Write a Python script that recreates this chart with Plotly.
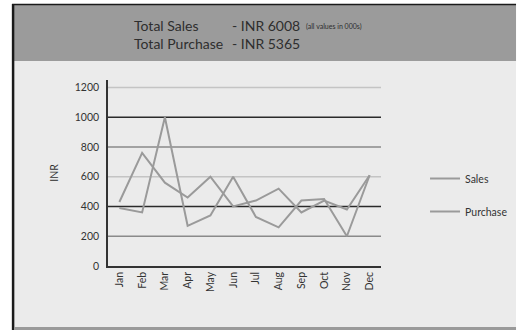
import plotly.graph_objects as go

months = ["Jan", "Feb", "Mar", "Apr", "May", "Jun", "Jul", "Aug", "Sep", "Oct", "Nov", "Dec"]
sales = [430, 760, 560, 460, 600, 400, 440, 520, 360, 440, 380, 610]
purchase = [390, 360, 1000, 270, 340, 600, 330, 260, 440, 450, 200, 610]
y_ticks = [0, 200, 400, 600, 800, 1000, 1200]
grid_colors = ["#8a8a8a", "#2a2a2a", "#c4c4c4", "#8a8a8a", "#2a2a2a", "#c4c4c4"]
total_sales = 6008
total_purchase = 5365

W, H = 525, 330
ML, MR, MT, MB = 108, 138, 80, 64
PW, PH = W - ML - MR, H - MT - MB


def px(x):
    return (x - ML) / PW


def py(y):
    return (H - MB - y) / PH


FONT = "Lato"
line_color = "#9a9a9a"

fig = go.Figure()
fig.add_trace(go.Scatter(x=months, y=sales, mode="lines", name="Sales",
                         line=dict(color=line_color, width=2), legendgroup="s"))
fig.add_trace(go.Scatter(x=months, y=purchase, mode="lines", name="Purchase",
                         line=dict(color=line_color, width=2), legendgroup="p"))

shapes = [
    dict(type="rect", xref="paper", yref="paper", x0=px(12), x1=px(W), y0=py(327), y1=py(61),
         fillcolor="#ebebeb", line=dict(width=0), layer="below"),
    dict(type="rect", xref="paper", yref="paper", x0=px(12), x1=px(W), y0=py(61), y1=py(5),
         fillcolor="#9b9b9b", line=dict(width=0), layer="below"),
    dict(type="line", xref="paper", yref="paper", x0=px(10), x1=px(W), y0=py(4.5), y1=py(4.5),
         line=dict(color="#1a1a1a", width=1.5), layer="below"),
    dict(type="line", xref="paper", yref="paper", x0=px(11), x1=px(11), y0=py(4), y1=py(H),
         line=dict(color="#1a1a1a", width=2.5), layer="below"),
    dict(type="line", xref="paper", yref="paper", x0=px(12), x1=px(W), y0=py(328.5), y1=py(328.5),
         line=dict(color="#9a9a9a", width=3), layer="below"),
]
for v, c in zip(y_ticks[1:], grid_colors):
    shapes.append(dict(type="line", xref="paper", yref="y", x0=0, x1=1, y0=v, y1=v,
                       line=dict(color=c, width=1.5), layer="below"))

annotations = [
    dict(text="Total Sales", x=px(133), y=py(25)),
    dict(text="- INR %d" % total_sales, x=px(233), y=py(25)),
    dict(text="(all values in 000s)", x=px(308), y=py(26), size=7),
    dict(text="Total Purchase", x=px(133), y=py(44)),
    dict(text="- INR %d" % total_purchase, x=px(233), y=py(44)),
]
annotations = [
    dict(text=a["text"], x=a["x"], y=a["y"], xref="paper", yref="paper",
         xanchor="left", yanchor="middle", showarrow=False,
         font=dict(family=FONT, size=a.get("size", 14), color="#2e2e2e"))
    for a in annotations
]

fig.update_layout(
    width=W, height=H,
    margin=dict(l=ML, r=MR, t=MT, b=MB, pad=0),
    paper_bgcolor="white",
    plot_bgcolor="rgba(0,0,0,0)",
    font=dict(family=FONT, size=10, color="#333333"),
    shapes=shapes,
    annotations=annotations,
    showlegend=True,
    legend=dict(x=px(432), y=py(164), xanchor="left", yanchor="top",
                bgcolor="rgba(0,0,0,0)", tracegroupgap=14,
                traceorder="grouped", itemwidth=30,
                font=dict(family=FONT, size=10.5, color="#333333")),
    xaxis=dict(type="category", range=[-0.5, 11.5], tickangle=-90,
               showgrid=False, showline=True, linecolor="#333333", linewidth=1.5,
               ticks="", tickfont=dict(size=10.5, color="#333333"), fixedrange=True),
    yaxis=dict(range=[0, 1250], tickvals=y_ticks, showgrid=False, zeroline=False,
               showline=True, linecolor="#333333", linewidth=1.5, ticks="",
               ticklabelstandoff=5,
               tickfont=dict(size=10.5, color="#333333"),
               title=dict(text="INR", standoff=14, font=dict(size=10.5, color="#333333"))),
)

fig.write_html("out.html")
